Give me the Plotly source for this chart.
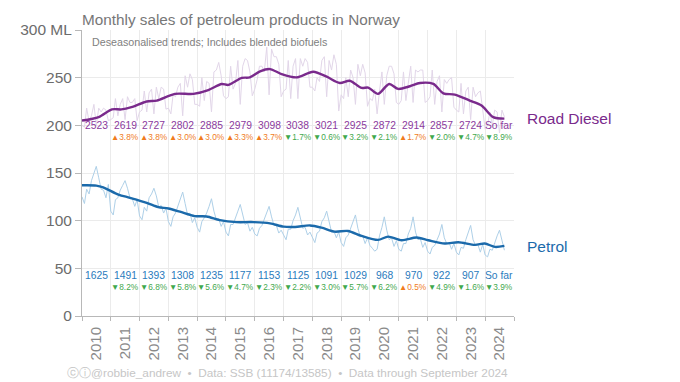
import plotly.graph_objects as go
import pandas as pd

# ---------------- data ----------------
years = list(range(2010, 2025))
year_labels = [str(y) for y in years]

# Monthly sales (ML)
diesel_monthly = [
    [200, 198, 218, 204, 210, 222, 200, 218, 214, 218, 216, 205],  # 2010
    [206, 208, 228, 210, 222, 228, 206, 230, 224, 224, 228, 205],  # 2011
    [214, 216, 236, 214, 234, 238, 212, 240, 228, 240, 238, 217],  # 2012
    [218, 212, 232, 230, 240, 244, 210, 252, 240, 254, 248, 222],  # 2013
    [222, 220, 250, 226, 246, 244, 214, 256, 258, 266, 252, 231],  # 2014
    [228, 230, 262, 238, 244, 268, 222, 262, 270, 268, 256, 231],  # 2015
    [238, 248, 262, 262, 256, 282, 232, 280, 272, 272, 264, 230],  # 2016
    [236, 238, 268, 228, 262, 270, 228, 270, 262, 270, 266, 240],  # 2017
    [240, 236, 250, 246, 268, 272, 230, 268, 258, 274, 264, 215],  # 2018
    [232, 228, 250, 230, 258, 250, 222, 264, 252, 264, 255, 220],  # 2019
    [228, 226, 238, 212, 236, 256, 222, 252, 262, 262, 254, 224],  # 2020
    [222, 226, 256, 226, 244, 262, 224, 258, 256, 258, 258, 224],  # 2021
    [226, 230, 258, 222, 246, 252, 214, 248, 244, 248, 250, 219],  # 2022
    [216, 214, 244, 212, 236, 240, 206, 240, 230, 234, 236, 216],  # 2023
    [196, 200, 214, 200, 216, 214, 192, 216, 209],                 # 2024
]
petrol_monthly = [
    [125, 118, 133, 128, 142, 150, 157, 145, 133, 132, 124, 138],  # 2010
    [110, 106, 122, 124, 132, 137, 142, 134, 124, 123, 115, 122],  # 2011
    [105, 101, 114, 110, 124, 128, 134, 126, 114, 116, 108, 113],  # 2012
    [99, 94, 104, 108, 116, 124, 130, 118, 106, 108, 98, 103],     # 2013
    [93, 88, 99, 103, 108, 115, 123, 110, 101, 102, 94, 99],       # 2014
    [88, 84, 96, 96, 104, 110, 117, 106, 96, 98, 89, 93],          # 2015
    [86, 84, 92, 95, 102, 108, 115, 104, 95, 95, 87, 90],          # 2016
    [84, 80, 91, 91, 100, 106, 114, 101, 92, 93, 85, 88],          # 2017
    [82, 77, 87, 89, 99, 103, 110, 97, 88, 89, 82, 88],            # 2018
    [77, 73, 82, 85, 92, 97, 106, 92, 83, 84, 76, 82],             # 2019
    [74, 71, 68, 70, 84, 93, 104, 90, 80, 82, 73, 79],             # 2020
    [70, 68, 76, 76, 86, 92, 104, 88, 80, 81, 72, 77],             # 2021
    [68, 65, 72, 74, 80, 86, 96, 82, 76, 77, 70, 76],              # 2022
    [67, 64, 72, 71, 80, 87, 95, 80, 74, 75, 67, 75],              # 2023
    [64, 62, 70, 69, 77, 84, 90, 78, 69],                          # 2024
]

# Deseasonalised trend, read at points along the thick lines
diesel_trend_dates = [
    "2010-01-01", "2010-08-01", "2011-01-15", "2011-05-15", "2011-09-20",
    "2012-04-01", "2012-08-07", "2013-03-25", "2013-11-15", "2014-05-22",
    "2014-11-07", "2015-01-30", "2015-07-20", "2015-10-30", "2016-03-08",
    "2016-07-12", "2016-12-05", "2017-06-14", "2018-01-12", "2018-07-01",
    "2018-12-15", "2019-04-20", "2019-09-17", "2019-12-10", "2020-04-12",
    "2020-09-01", "2020-12-24", "2021-05-22", "2021-09-27", "2022-03-15",
    "2022-07-20", "2022-12-12", "2023-06-20", "2023-11-16", "2024-04-12",
    "2024-09-01",
]
diesel_trend = [
    205, 208.7, 216.7, 216.7, 219,
    225, 226, 233, 233, 237,
    243.4, 242.4, 249.7, 250.3, 256.6,
    259, 253.8, 250.3, 256.2, 251,
    244.4, 246.8, 239.2, 239.6, 233,
    243.4, 238.2, 241, 244.4, 243.4,
    233.6, 232.3, 226, 220.8, 208.6,
    207,
]
petrol_trend_dates = [
    "2010-01-01", "2010-07-01", "2010-09-27", "2011-04-08", "2011-09-01",
    "2012-04-01", "2012-08-25", "2013-01-01", "2013-05-27", "2013-12-01",
    "2014-05-01", "2014-10-15", "2015-05-15", "2015-12-15", "2016-07-12",
    "2017-01-01", "2017-05-27", "2017-12-01", "2018-04-27", "2018-10-12",
    "2019-03-28", "2019-09-17", "2020-04-12", "2020-08-18", "2021-02-06",
    "2021-08-15", "2022-01-08", "2022-08-07", "2023-01-26", "2023-08-25",
    "2023-12-27", "2024-05-05", "2024-09-01",
]
petrol_trend = [
    137.1, 136.8, 135, 127.4, 124,
    118.7, 114.2, 112.8, 109.4, 104.8,
    104.4, 100.6, 98.5, 98.5, 97.2,
    93.7, 93.4, 95, 92.7, 88.5,
    89.2, 84, 79.8, 83.3, 79.5,
    82.3, 79.5, 76, 77.4, 74.6,
    76, 72.5, 73.5,
]

# Annual totals (ML) and change vs previous year (%)
diesel_totals = ["2523", "2619", "2727", "2802", "2885", "2979", "3098", "3038",
                 "3021", "2925", "2872", "2914", "2857", "2724", "So far"]
diesel_changes = [None, 3.8, 3.8, 3.0, 3.0, 3.3, 3.7, -1.7, -0.6, -3.2, -2.1,
                  1.7, -2.0, -4.7, -8.9]
petrol_totals = ["1625", "1491", "1393", "1308", "1235", "1177", "1153", "1125",
                 "1091", "1029", "968", "970", "922", "907", "So far"]
petrol_changes = [None, -8.2, -6.8, -5.8, -5.6, -4.7, -2.3, -2.2, -3.0, -5.7,
                  -6.2, 0.5, -4.9, -1.6, -3.9]

y_ticks = [0, 50, 100, 150, 200, 250, 300]
y_tick_text = ["0", "50", "100", "150", "200", "250", "300 ML"]

# ---------------- styling ----------------
FONT = "Liberation Sans, Arial, Helvetica, sans-serif"
DIESEL = "#7a2a8c"
DIESEL_RAW = "#e2d6e9"
DIESEL_TXT = "#8b3a9e"
PETROL = "#1b6aab"
PETROL_RAW = "#aed0e8"
PETROL_TXT = "#2a7bbd"
UP = "#f07c1c"
DOWN = "#3fa84c"

months = pd.date_range("2010-01-01", periods=sum(len(r) for r in diesel_monthly), freq="MS")
diesel_flat = [v for row in diesel_monthly for v in row]
petrol_flat = [v for row in petrol_monthly for v in row]

fig = go.Figure()
fig.add_trace(go.Scatter(x=months, y=diesel_flat, mode="lines",
                         line=dict(color=DIESEL_RAW, width=1), hoverinfo="skip"))
fig.add_trace(go.Scatter(x=months, y=petrol_flat, mode="lines",
                         line=dict(color=PETROL_RAW, width=1), hoverinfo="skip"))
fig.add_trace(go.Scatter(x=pd.to_datetime(diesel_trend_dates), y=diesel_trend, mode="lines",
                         line=dict(color=DIESEL, width=2.4, shape="spline", smoothing=0.8)))
fig.add_trace(go.Scatter(x=pd.to_datetime(petrol_trend_dates), y=petrol_trend, mode="lines",
                         line=dict(color=PETROL, width=2.4, shape="spline", smoothing=0.8)))

annotations = []
for i, yr in enumerate(years):
    xm = f"{yr}-07-01"
    annotations.append(dict(x=xm, y=199.5, text=diesel_totals[i], showarrow=False,
                            font=dict(size=10.3, color=DIESEL_TXT, family=FONT)))
    annotations.append(dict(x=xm, y=42, text=petrol_totals[i], showarrow=False,
                            font=dict(size=10.3, color=PETROL_TXT, family=FONT)))
    for ch, yv in ((diesel_changes[i], 188), (petrol_changes[i], 30)):
        if ch is None:
            continue
        sym = "▲" if ch > 0 else "▼"
        col = UP if ch > 0 else DOWN
        annotations.append(dict(x=xm, y=yv, text=f"{sym}{abs(ch):.1f}%", showarrow=False,
                                font=dict(size=8.3, color=col, family=FONT)))

annotations.append(dict(xref="paper", yref="y", x=1.025, y=207.5, text="Road Diesel",
                        showarrow=False, xanchor="left",
                        font=dict(size=15.5, color=DIESEL, family=FONT)))
annotations.append(dict(xref="paper", yref="y", x=1.025, y=73, text="Petrol", showarrow=False,
                        xanchor="left", font=dict(size=15.5, color=PETROL, family=FONT)))
annotations.append(dict(xref="paper", yref="paper", x=0.018, y=0.985,
                        text="Deseasonalised trends; Includes blended biofuels",
                        showarrow=False, xanchor="left", yanchor="top",
                        font=dict(size=10.7, color="#808080", family=FONT)))
annotations.append(dict(xref="paper", yref="paper", x=0.475, y=-0.2,
                        text="ⓒⓘ@robbie_andrew  •  Data: SSB (11174/13585)  •  Data through September 2024",
                        showarrow=False, xanchor="center", yanchor="middle",
                        font=dict(size=11.8, color="#c6c6c6", family=FONT)))

fig.update_layout(
    width=680, height=382,
    margin=dict(l=82, r=166, t=30, b=66, autoexpand=False),
    paper_bgcolor="white", plot_bgcolor="white",
    showlegend=False,
    font=dict(family=FONT, color="#707070"),
    title=dict(text="Monthly sales of petroleum products in Norway",
               x=82 / 680, xanchor="left", y=1 - 20 / 382, yanchor="middle",
               font=dict(size=15.3, color="#777777", family=FONT)),
    annotations=annotations,
)
fig.update_xaxes(
    type="date", range=["2010-01-01", "2025-01-01"], automargin=False,
    dtick="M12", tick0="2010-01-01", ticklabelmode="period", tickformat="%Y",
    tickangle=-90, tickfont=dict(size=15, color="#8a8a8a", family=FONT),
    showgrid=True, gridcolor="#ebebeb", gridwidth=1,
    showline=True, linecolor="#b8b8b8", linewidth=1,
    ticks="outside", ticklen=4, tickcolor="#b8b8b8",
)
fig.update_yaxes(
    range=[0, 300], tickvals=y_ticks, ticktext=y_tick_text, automargin=False,
    tickfont=dict(size=15.5, color="#6c6c6c", family=FONT),
    showgrid=True, gridcolor="#ebebeb", gridwidth=1,
    showline=True, linecolor="#b8b8b8", linewidth=1,
    ticks="outside", ticklen=6, tickcolor="#b8b8b8",
    zeroline=False,
)

fig.write_html("out.html", config={"displayModeBar": False},
               post_script="document.body.style.margin='0';")
